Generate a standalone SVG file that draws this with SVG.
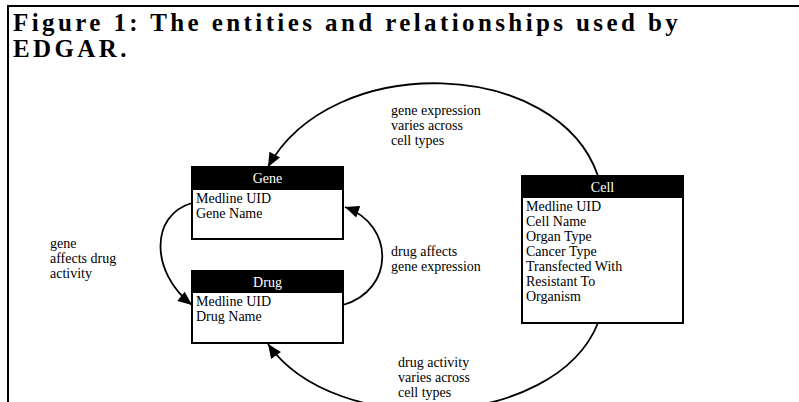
<svg xmlns="http://www.w3.org/2000/svg" width="799" height="402" viewBox="0 0 799 402">
<style>
.title{font-family:"Liberation Serif",serif;font-weight:bold;font-size:25px;letter-spacing:3.4px;fill:#000}
.t{font-family:"Liberation Serif",serif;font-size:14px;fill:#000}
.h{font-family:"Liberation Serif",serif;font-size:14px;fill:#fff;text-anchor:middle}
.box{fill:#fff;stroke:#000;stroke-width:2}
.hd{fill:#000;stroke:#000;stroke-width:2}
.c{fill:none;stroke:#000;stroke-width:1.8}
</style>
<defs>
<marker id="ah" viewBox="0 0 14 12" refX="14" refY="6" markerWidth="14" markerHeight="12" markerUnits="userSpaceOnUse" orient="auto" overflow="visible">
<path d="M0,0 L14,6 L0,12 z" fill="#000"/>
</marker>
</defs>
<rect width="799" height="402" fill="#fff"/>
<g id="frame">
<line x1="7" y1="6" x2="799" y2="6" stroke="#000" stroke-width="2"/>
<line x1="8" y1="5" x2="8" y2="402" stroke="#000" stroke-width="2"/>
</g>
<g id="title">
<text class="title" x="13" y="31">Figure 1: The entities and relationships used by</text>
<text class="title" x="13" y="57">EDGAR.</text>
</g>
<g id="connectors">
<path class="c" d="M598,176 C558,58 332,50 268,167" marker-end="url(#ah)"/>
<path class="c" d="M192,203 C150,215 150,272 192,305" marker-end="url(#ah)"/>
<path class="c" d="M343,305 C395,290 395,225 345,207" marker-end="url(#ah)"/>
<path class="c" d="M598,323 C555,430 335,440 268,344" marker-end="url(#ah)"/>
</g>
<g id="labels">
<text class="t" x="391" y="115">gene expression</text>
<text class="t" x="391" y="130">varies across</text>
<text class="t" x="391" y="145">cell types</text>
<text class="t" x="391" y="256">drug affects</text>
<text class="t" x="391" y="271">gene expression</text>
<text class="t" x="50" y="248">gene</text>
<text class="t" x="50" y="263">affects drug</text>
<text class="t" x="50" y="278">activity</text>
<text class="t" x="398" y="367">drug activity</text>
<text class="t" x="398" y="382">varies across</text>
<text class="t" x="398" y="397">cell types</text>
</g>
<g id="gene">
<rect class="box" x="192" y="167" width="151" height="72"/>
<rect class="hd" x="192" y="167" width="151" height="22"/>
<text class="h" x="267.5" y="183">Gene</text>
<text class="t" x="196" y="203">Medline UID</text>
<text class="t" x="196" y="218">Gene Name</text>
</g>
<g id="drug">
<rect class="box" x="192" y="271" width="151" height="72"/>
<rect class="hd" x="192" y="271" width="151" height="21"/>
<text class="h" x="267.5" y="287">Drug</text>
<text class="t" x="196" y="306">Medline UID</text>
<text class="t" x="196" y="321">Drug Name</text>
</g>
<g id="cell">
<rect class="box" x="522" y="176" width="161" height="147"/>
<rect class="hd" x="522" y="176" width="161" height="21"/>
<text class="h" x="602.5" y="192">Cell</text>
<text class="t" x="526" y="211">Medline UID</text>
<text class="t" x="526" y="226">Cell Name</text>
<text class="t" x="526" y="241">Organ Type</text>
<text class="t" x="526" y="256">Cancer Type</text>
<text class="t" x="526" y="271">Transfected With</text>
<text class="t" x="526" y="286">Resistant To</text>
<text class="t" x="526" y="301">Organism</text>
</g>
</svg>
